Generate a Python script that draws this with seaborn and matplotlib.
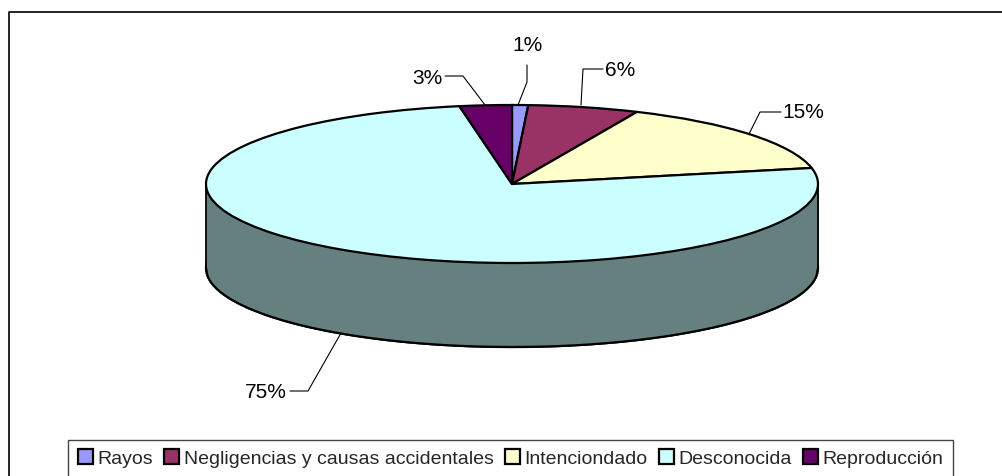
import numpy as np
import matplotlib
matplotlib.use("Agg")
import matplotlib.pyplot as plt
import seaborn as sns

categories = ["Rayos", "Negligencias y causas accidentales", "Intenciondado", "Desconocida", "Reproducción"]
shares = [0.85, 5.85, 15.05, 75.5, 2.75]
labels = ["1%", "6%", "15%", "75%", "3%"]
colors = ["#9999FF", "#993366", "#FFFFCC", "#CCFFFF", "#660066"]
wall_color = "#667F7F"

sns.set_theme(style="white")
plt.rcParams["font.family"] = ["Liberation Sans", "DejaVu Sans"]

W, H = 1002, 477
cx, cy, rx, ry = 512, 185, 306, 79
depth_px = 84
fig = plt.figure(figsize=(W / 100, H / 100), dpi=100, facecolor="white")
ax = fig.add_axes([0, 0, 1, 1])

depth = depth_px / ry
# side wall: lower disc plus the band joining it to the top disc
ax.pie([1], radius=1, center=(0, -depth), colors=[wall_color],
       wedgeprops=dict(edgecolor="black", linewidth=1.6))
xs = np.linspace(-1, 1, 400)
ax.fill_between(xs, -np.sqrt(1 - xs ** 2) - depth, 0, color=wall_color, lw=0, zorder=3)
ax.plot(xs, -np.sqrt(1 - xs ** 2) - depth, color="black", lw=1.6, zorder=3.1)
ax.plot([-1, -1], [0, -depth], color="black", lw=1.3, zorder=3.1)
ax.plot([1, 1], [0, -depth], color="black", lw=1.3, zorder=3.1)

wedges, _ = ax.pie(shares, radius=1, center=(0, 0), startangle=90, counterclock=False,
                   colors=colors, wedgeprops=dict(edgecolor="black", linewidth=1.6, zorder=4))

ax.set_aspect("auto")
ax.set_xlim(-cx / rx, (W - cx) / rx)
ax.set_ylim((cy - H) / ry, cy / ry)
ax.set_frame_on(False)


def px(x, y):
    return (x - cx) / rx, (cy - y) / ry


label_pos = [(527, 45), (620, 70), (803, 113), (266, 392), (427, 78)]
leaders = [
    [(527, 66), (527, 83), (518, 106)],
    [(603, 70), (583, 70), (581, 106)],
    [(781, 113), (760, 113), (749, 135)],
    [(290, 392), (308, 392), (341, 334)],
    [(445, 77), (463, 77), (485, 106)],
]
for text, pos, pts in zip(labels, label_pos, leaders):
    ax.text(*px(*pos), text, ha="center", va="center", fontsize=15, color="black", zorder=6)
    d = np.array([px(*p) for p in pts])
    ax.plot(d[:, 0], d[:, 1], color="black", lw=0.8, zorder=5)

# outer chart frame: open on the right, running off the bottom edge
fx = np.array([9, 9, 1002])
fy = np.array([477, 12.5, 12.5])
d = np.array([px(a, b) for a, b in zip(fx, fy)])
ax.plot(d[:, 0], d[:, 1], color="black", lw=1.2, zorder=1, clip_on=False)

leg = fig.legend(wedges, categories, ncol=5, loc="upper left",
                 bbox_to_anchor=(68 / W, 1 - 440.5 / H), bbox_transform=fig.transFigure,
                 frameon=True, fancybox=False, edgecolor="#444444", framealpha=1,
                 fontsize=14, handlelength=0.78, handleheight=0.78, handletextpad=0.25,
                 columnspacing=0.55, borderpad=0.5, borderaxespad=0)
for h in leg.legend_handles:
    h.set_linewidth(1.6)
    h.set_edgecolor("black")

fig.savefig("out.png", dpi=100, facecolor="white")
